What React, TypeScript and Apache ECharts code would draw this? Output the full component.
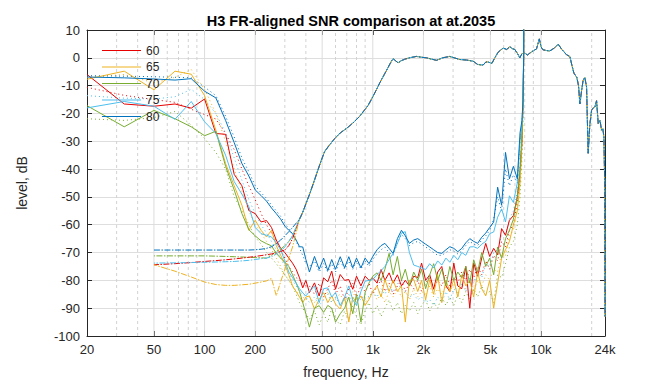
import React, { useEffect, useRef } from 'react';
import * as echarts from 'echarts';

const TITLE = 'H3 FR-aligned SNR comparison at at.2035';
const X_NAME = 'frequency, Hz';
const Y_NAME = 'level, dB';
const LEVELS = ['60', '65', '70', '75', '80'];
const COLORS = ['#e60000', '#edb120', '#77ac30', '#4dbeee', '#0072bd'];

const X_TICKS = [20, 50, 100, 200, 500, 1000, 2000, 5000, 10000, 24000];
const X_MAJOR_GRID = [50, 100, 200, 500, 1000, 2000, 5000, 10000];
const X_MINOR_GRID = [30, 40, 60, 70, 80, 90, 300, 400, 600, 700, 800, 900, 3000, 4000, 6000, 7000, 8000, 9000, 20000];
const Y_MIN = -100;
const Y_MAX = 10;
const Y_STEP = 10;

// noise curves (solid) and their dotted companions share one frequency grid
const NOISE_FREQS = [20, 33.3, 50, 66.7, 83.3, 100, 116.7, 133.3, 150, 166.7, 183.3, 200, 216.7, 233.3, 250, 266.7, 283.3, 300, 316.7, 333.3, 350, 366.7, 383.3, 400,
  420, 450, 480, 510, 540, 570, 600, 640, 680, 720, 760, 800, 850, 900, 950, 1000, 1060, 1120, 1180, 1250, 1320, 1400, 1480, 1560, 1650, 1750, 1850, 1950, 2060, 2180, 2300, 2430, 2570, 2720, 2870, 3030, 3200, 3380, 3570, 3770, 3980, 4200, 4440, 4690, 4950, 5230, 5520, 5830, 6150, 6490, 6850, 7230, 7500, 7700, 7820, 7880, 7920];

const NOISE_60 = [-6, -16.6, -17.4, -16.6, -18.1, -14.8, -27.2, -27.5, -41.9, -46, -54.9, -56, -59, -58.5, -61, -65.5, -68.5, -70, -72, -73.8, -76, -79.1, -82.7, -80,
  -84.4, -80.9, -85.6, -79.1, -80.5, -76.7, -83.2, -77.9, -80, -79.7, -83.2, -78.5, -82, -78.5, -80, -79.1, -81, -76.1, -80, -77.3, -81, -78, -82, -80, -82, -78.5, -79, -73.8, -80, -78, -83.2, -77, -75, -82, -84, -73.8, -82, -83, -75, -90, -73.8, -78.5, -72, -66.7, -71.4, -68.5, -70.8, -61.4, -63.8, -58.4, -56.7, -50, -41.3, -30, -15, 0, 40];
const NOISE_65 = [-7.7, -4.8, -11.5, -4.8, -5.9, -13.6, -26, -38, -46, -53, -62, -58.4, -62, -64.4, -62, -67.5, -71, -74, -78, -82, -84, -86, -88, -86,
  -85.6, -90.3, -86.8, -84.4, -88, -85.6, -88.5, -90.3, -86, -95, -86, -88, -85.6, -89, -86.8, -84, -82, -86, -79.7, -84, -80, -84, -82, -95, -80, -79.7, -84, -80, -87, -79.7, -85, -78, -88, -80, -84, -79.7, -86, -78, -82, -80, -86, -77, -83, -85.6, -80, -90, -81, -72, -69, -66, -60, -55, -45, -30, -15, 0, 40];
const NOISE_70 = [-17.2, -24.8, -18.9, -21.9, -24.8, -28, -26.4, -39, -47.5, -56, -61.8, -64, -65.8, -66.8, -67.6, -70.3, -72, -73.5, -75, -78, -80.9, -84, -88, -92,
  -96.8, -90, -89.1, -91.5, -89, -90, -95, -92, -90, -86, -92, -85, -95, -84.4, -80.9, -78.5, -77.3, -80, -76, -70.3, -78, -71.4, -80, -76, -82, -77, -80, -76, -83, -78, -74, -80, -76, -82, -75, -80, -77, -79, -75, -81, -72.6, -77, -70, -75, -72, -78, -68, -72, -65, -62, -58, -50, -40, -28, -15, 0, 40];
const NOISE_75 = [-18, -15.7, -17.4, -22.1, -15.7, -23, -27.2, -35, -44.5, -49, -53.5, -61, -63.2, -63.8, -64.4, -66.5, -69, -73, -77, -79, -81, -83, -84.5, -85.6,
  -84, -82, -88, -83, -82.7, -86, -84.4, -89.1, -86, -82, -87, -89, -84, -80.3, -80, -79.7, -77.9, -76.5, -75, -72.5, -70.3, -66.7, -63, -62.5, -70, -74.5, -75, -75.5, -76.1, -74, -75.5, -73, -74.5, -72, -73.5, -71, -72.6, -70, -71, -68, -67.9, -68.5, -67, -66, -63.2, -62.6, -57.3, -54.3, -59, -49.6, -52, -44.9, -30, -23.6, -15, 0, 40];
const NOISE_80 = [-6.9, -7.2, -7.6, -8, -7.5, -12, -14.4, -22.5, -30.5, -38, -42.5, -47.5, -49.5, -51.5, -54, -56, -58, -60.5, -62, -63.2, -65.5, -67.9, -68, -72.5,
  -77, -71.4, -76, -72, -76.5, -72.5, -76, -71.5, -75.5, -71.5, -75.5, -72, -75.5, -72, -74, -71.4, -69, -67.5, -66.7, -68.5, -70.3, -65, -62, -64, -66.7, -65.5, -65, -66, -67, -68, -69, -70, -70.3, -69, -67.9, -68.5, -69.7, -68.5, -66.5, -65, -66, -66.7, -64.5, -63, -61, -59, -46.5, -53, -34, -43.5, -39, -43.5, -27, -22.5, -15, 0, 40];

const DOT_60 = [-10.6, -13.5, -15, -16, -18.5, -20.4, -22, -27.2, -33, -40, -46, -51, -56, -60, -63, -66, -69, -72, -75, -77, -79, -80, -81, -82,
  -82, -85, -81, -86, -83, -80, -85, -82, -87, -83, -81, -86, -82, -84, -81, -85, -82, -80, -84, -81, -85, -82, -80, -84, -81, -83, -80, -84, -81, -79, -83, -80, -82, -78, -82, -79, -81, -77, -80, -76, -79, -75, -78, -73, -76, -71, -73, -66, -68, -62, -60, -52, -44, -32, -18, -2, 40];
const DOT_65 = [-7, -6, -9, -7, -4.2, -11.3, -20, -30, -40, -48, -55, -60, -63, -66, -69, -72, -75, -78, -80, -82, -84, -85, -86, -87,
  -86, -88, -85, -87, -84, -88, -86, -85, -88, -86, -84, -87, -85, -88, -86, -84, -87, -85, -88, -84, -86, -83, -86, -84, -87, -83, -86, -84, -85, -82, -86, -83, -85, -82, -84, -81, -85, -82, -83, -80, -84, -80, -82, -78, -80, -76, -77, -70, -71, -64, -62, -54, -46, -33, -19, -3, 40];
const DOT_70 = [-21.9, -22.5, -21.5, -19.3, -24.2, -29, -34, -40, -50, -55, -60, -64.4, -67, -70, -72, -74, -76, -78, -80, -82, -85, -88, -90, -92,
  -94, -91, -96, -92, -95, -90, -94, -96, -91, -94, -89, -93, -96, -91, -88, -92, -89, -93, -90, -87, -91, -88, -92, -89, -91, -88, -92, -89, -87, -91, -88, -90, -86, -89, -86, -89, -85, -88, -84, -87, -83, -86, -82, -85, -84, -88, -78, -79, -74, -68, -66, -60, -50, -36, -20, -4, 40];
const DOT_75 = [-13.6, -14.5, -14.8, -14, -11.3, -15, -20, -27, -36, -44, -51, -56, -60, -63, -66, -69, -72, -75, -78, -80, -82, -84, -85, -86,
  -88, -86, -89, -87, -85, -88, -86, -89, -87, -85, -88, -86, -87, -85, -86, -84, -86, -83, -85, -82, -84, -81, -83, -84, -86, -85, -87, -86, -88, -87, -89, -86, -88, -84, -87, -83, -85, -81, -84, -79, -81, -77, -79, -74, -75, -70, -69, -64, -63, -58, -55, -48, -38, -27, -17, -1, 40];
const DOT_80 = [-6.4, -6.6, -6.8, -7, -7.2, -10.5, -13.6, -21, -28.5, -36, -41, -46, -48.5, -50.5, -53, -55, -57, -59.5, -61.5, -63.5, -66, -68.5, -71, -74,
  -75, -73, -77, -74, -77, -74, -77, -73, -76, -73, -76, -73, -76, -73, -75, -72.5, -70.5, -69, -68, -70, -71, -66.5, -63.5, -65, -67.5, -66.5, -66, -67, -68, -69, -70, -71, -71, -70, -69, -69.5, -70.5, -69.5, -67.5, -66, -67, -67.5, -65.5, -64, -62, -58, -50, -55, -40, -46, -42, -45, -30, -24, -16, -1, 40];

// frequency responses (dash-dot): a per-level low-frequency part and a shared upper part
const FR_LOW_FREQS = [50, 66.7, 83.3, 100, 116.7, 133.3, 150, 166.7, 183.3, 200, 216.7, 233.3, 250, 266.7, 283.3, 300, 316.7, 333.3];
const FR_LOW_60 = [-74.4, -74, -73.6, -73.2, -72.9, -72.6, -72.3, -72, -71.7, -71.4, -71.1, -70.8, -70.5, -70.2, -69.6, -69.1, -67.5, -65];
const FR_LOW_65 = [-74.4, -76.7, -78.8, -80.6, -81.5, -81.8, -81.8, -81.6, -81.4, -81, -80.6, -80.2, -79.3, -85.5, -80.5, -76, -72, -68];
const FR_LOW_70 = [-71.2, -71.2, -71.2, -71.2, -71.3, -71.4, -71.5, -71.6, -71.7, -71.8, -71.9, -72, -71, -69.5, -68.8, -67.5, -66, -64];
const FR_LOW_75 = [-73.8, -73.7, -73.6, -73.5, -73.4, -73.3, -73.2, -73, -72.8, -72.5, -72.2, -72, -71.5, -70.5, -69.5, -68, -66, -64];
const FR_LOW_80 = [-69.1, -69.1, -69.1, -69.1, -69.1, -69.1, -69.1, -69.1, -69.1, -69, -68.8, -68.5, -67.9, -66.8, -65.5, -64, -62.5, -61];

const FR_HIGH_FREQS = [366.7, 383.3, 400, 421, 450, 483, 517, 550, 594, 640, 697, 760, 836, 900, 936, 1000, 1050, 1100, 1170, 1232, 1290, 1319, 1350, 1413, 1480, 1548, 1650, 1817, 1950, 2084, 2250, 2390, 2600, 2868, 3050, 3288, 3600, 3946, 4200, 4524, 4700, 4846, 5100, 5312, 5556, 5950, 6250, 6522, 6750, 6984, 7250, 7482, 7700, 8012, 8300, 8580, 8974, 9400, 9772, 10000, 10250, 10800, 11280, 12000, 12640, 13300, 14180, 14840, 15300, 15680, 16330, 16700, 17020, 17400, 17800, 18220, 18650, 19060, 19500, 19970, 20400, 20900, 21390, 21870, 22400, 22900, 23300, 23640, 23900, 24000];
const FR_HIGH = [-58, -55.5, -52.5, -49, -44, -38.5, -33.7, -31.5, -29, -27, -25.4, -23.5, -21, -18.5, -17.2, -14, -11.5, -9, -6, -3.5, -1.2, -0.3, -0.8, -1.8, -1, -0.5, 0, 0.5, 0.2, 0, -0.5, -0.9, 0, 0.5, 0, -0.6, -0.8, -1.2, -2.4, -2.6, -1.5, -1.5, -2, 0, 2, 3.5, 3, 4, 3.3, 3, 1.5, 0, 1.5, 1.7, 1, 1.7, 2.5, 3.2, 6.8, 4, 2.9, 2.6, 2.5, 3.5, 4.9, 3, 1.1, 0.5, -3, -5.5, -7.1, -10, -16.6, -12, -8, -7.1, -10.5, -34.3, -24, -18.9, -18, -17.7, -15.4, -23.6, -22.5, -26, -25.5, -28.4, -45, -93];

const FONT = 'Liberation Sans, Arial, Helvetica, sans-serif';
const INK = '#262626';

const NOISE = [NOISE_60, NOISE_65, NOISE_70, NOISE_75, NOISE_80];
const DOTS = [DOT_60, DOT_65, DOT_70, DOT_75, DOT_80];
const FR_LOWS = [FR_LOW_60, FR_LOW_65, FR_LOW_70, FR_LOW_75, FR_LOW_80];
// drawing order and dash phase of the dash-dot response curves (blue on top)
const FR_ORDER = [2, 0, 1, 3, 4];
const FR_DASH_OFFSET = [1, 3, 8, 5, 0];

const pts = (fs: number[], vs: number[]) => fs.map((f, i) => [Math.log10(f), vs[i]]);
const fmtFreq = (v: number) => {
  const f = Math.round(Math.pow(10, v));
  return f >= 1000 ? `${Math.round(f / 1000)}k` : `${f}`;
};

function buildOption() {
  const xMin = Math.log10(X_TICKS[0]);
  const xMax = Math.log10(X_TICKS[X_TICKS.length - 1]);
  const tickVals = X_TICKS.map((f) => Math.log10(f));
  const series: any[] = [];

  X_MAJOR_GRID.forEach((f) => series.push({
    type: 'line', name: 'gridMajor', silent: true, symbol: 'none', z: 1,
    data: [[Math.log10(f), Y_MIN], [Math.log10(f), Y_MAX]],
    lineStyle: { color: '#dcdcdc', width: 1 },
  }));
  X_MINOR_GRID.forEach((f) => series.push({
    type: 'line', name: 'gridMinor', silent: true, symbol: 'none', z: 1,
    data: [[Math.log10(f), Y_MIN], [Math.log10(f), Y_MAX]],
    lineStyle: { color: '#d2d2d2', width: 1, type: [3, 3] },
  }));

  LEVELS.forEach((lv, i) => series.push({
    type: 'line', name: `${lv} dotted`, symbol: 'none', z: 2,
    data: pts(NOISE_FREQS, DOTS[i]),
    lineStyle: { color: COLORS[i], width: 1, type: [1, 3] },
  }));
  LEVELS.forEach((lv, i) => series.push({
    type: 'line', name: lv, symbol: 'none', z: 3,
    data: pts(NOISE_FREQS, NOISE[i]),
    itemStyle: { color: COLORS[i] },
    lineStyle: { color: COLORS[i], width: 1 },
  }));
  FR_ORDER.forEach((i) => series.push({
    type: 'line', name: `${LEVELS[i]} FR`, symbol: 'none', z: 4,
    data: pts(FR_LOW_FREQS, FR_LOWS[i]).concat(pts(FR_HIGH_FREQS, FR_HIGH)),
    lineStyle: { color: COLORS[i], width: 1, type: [6, 1.5, 1.5, 1.5], dashOffset: FR_DASH_OFFSET[i] },
  }));

  const xBase = {
    type: 'value', min: xMin, max: xMax,
    axisLine: { onZero: false, lineStyle: { color: INK, width: 1 } },
    axisTick: { inside: true, length: 5, customValues: tickVals, lineStyle: { color: INK } },
    splitLine: { show: false },
  };
  const yBase = {
    type: 'value', min: Y_MIN, max: Y_MAX, interval: Y_STEP,
    axisLine: { show: true, onZero: false, lineStyle: { color: INK, width: 1 } },
    axisTick: { show: true, inside: true, length: 5, lineStyle: { color: INK } },
  };

  return {
    animation: false,
    backgroundColor: '#ffffff',
    textStyle: { fontFamily: FONT },
    title: {
      text: TITLE, left: 346, top: 8, textAlign: 'center',
      textStyle: { fontSize: 14.5, fontWeight: 'bold', color: '#000', fontFamily: FONT },
    },
    legend: {
      data: LEVELS, orient: 'vertical', left: 102, top: 44.5, padding: 0,
      icon: 'rect', itemWidth: 39, itemHeight: 1.2, itemGap: 4.5,
      textStyle: { fontSize: 12, color: INK, fontFamily: FONT },
    },
    grid: { left: 87, right: 67, top: 30, bottom: 43, containLabel: false },
    xAxis: [
      {
        ...xBase, position: 'bottom',
        name: X_NAME, nameLocation: 'middle', nameGap: 29,
        nameTextStyle: { fontSize: 14, color: INK, fontFamily: FONT },
        axisLabel: { customValues: tickVals, formatter: fmtFreq, fontSize: 13, color: INK, margin: 7, fontFamily: FONT },
      },
      { ...xBase, position: 'top', axisLabel: { show: false } },
    ],
    yAxis: [
      {
        ...yBase, position: 'left',
        name: Y_NAME, nameLocation: 'middle', nameGap: 58,
        nameTextStyle: { fontSize: 14, color: INK, fontFamily: FONT },
        axisLabel: { fontSize: 13, color: INK, margin: 7, fontFamily: FONT },
        splitLine: { show: true, lineStyle: { color: '#dedede', width: 1 } },
      },
      { ...yBase, position: 'right', axisLabel: { show: false }, splitLine: { show: false } },
    ],
    series,
  };
}

export default function App() {
  const ref = useRef<HTMLDivElement>(null);
  useEffect(() => {
    if (!ref.current) return;
    const chart = echarts.init(ref.current, undefined, { renderer: 'svg' });
    chart.setOption(buildOption() as any);
    return () => chart.dispose();
  }, []);
  return (
    <div
      ref={ref}
      style={{ position: 'fixed', left: 0, top: 0, width: 672, height: 384, background: '#fff' }}
    />
  );
}
